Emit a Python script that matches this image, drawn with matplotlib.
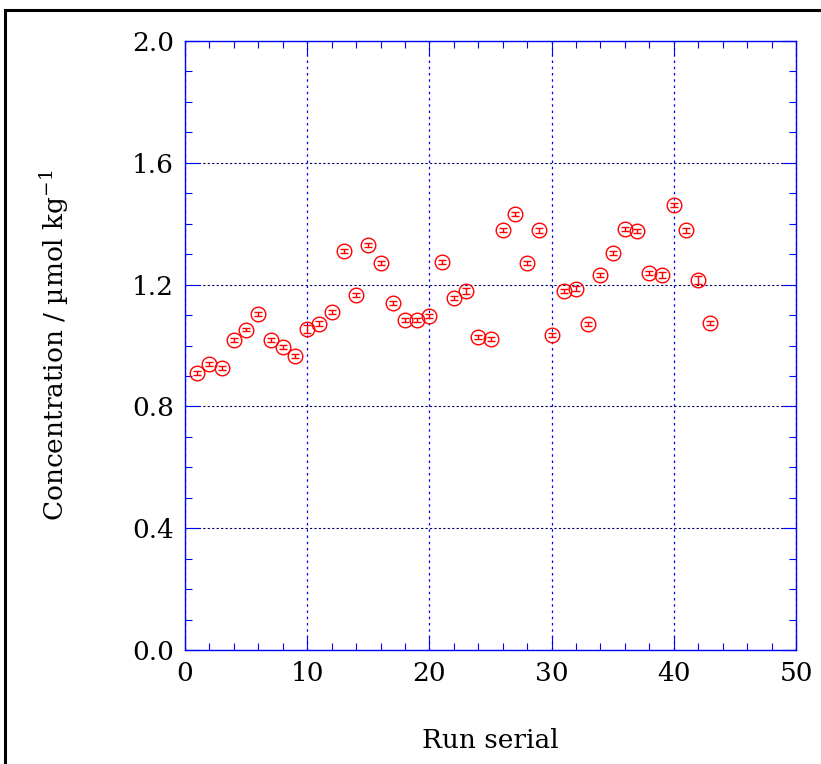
import matplotlib
matplotlib.use("Agg")
import matplotlib.pyplot as plt
from matplotlib.patches import Rectangle
from matplotlib.ticker import MultipleLocator

# data
runs = list(range(1, 44))
conc = [0.910, 0.939, 0.926, 1.018, 1.051, 1.103, 1.018, 0.995, 0.966, 1.054,
        1.071, 1.110, 1.310, 1.166, 1.330, 1.271, 1.140, 1.084, 1.084, 1.097,
        1.274, 1.156, 1.179, 1.028, 1.021, 1.379, 1.432, 1.271, 1.379, 1.034,
        1.179, 1.186, 1.071, 1.232, 1.304, 1.383, 1.376, 1.238, 1.232, 1.461,
        1.379, 1.215, 1.074]
err = [0.006, 0.006, 0.007, 0.005, 0.005, 0.006, 0.006, 0.006, 0.006, 0.012,
       0.008, 0.008, 0.006, 0.007, 0.006, 0.006, 0.006, 0.006, 0.006, 0.008,
       0.006, 0.006, 0.009, 0.006, 0.006, 0.006, 0.006, 0.006, 0.008, 0.006,
       0.008, 0.008, 0.006, 0.006, 0.006, 0.006, 0.007, 0.006, 0.009, 0.007,
       0.008, 0.012, 0.006]

plt.rcParams['font.family'] = ['DejaVu Serif']
plt.rcParams['mathtext.fontset'] = 'dejavuserif'

fig = plt.figure(figsize=(8.21, 7.64), dpi=100)
ax = fig.add_axes([185/821, 1 - 650/764, 611/821, 609/764])

# outer frame (only top/left visible in the reference)
fig.patches.append(Rectangle((5/821, -0.05), 1.2, 1 - 10/764 + 0.05,
                             transform=fig.transFigure, fill=False,
                             edgecolor='black', linewidth=2.2))

ax.errorbar(runs, conc, yerr=err, fmt='o', mfc='none', mec='red', color='red',
            ms=10.5, mew=1.0, elinewidth=1.0, capsize=3, capthick=1.0, zorder=3)

ax.set_xlim(0, 50)
ax.set_ylim(0, 2.0)
ax.xaxis.set_major_locator(MultipleLocator(10))
ax.xaxis.set_minor_locator(MultipleLocator(2))
ax.yaxis.set_major_locator(MultipleLocator(0.4))
ax.yaxis.set_minor_locator(MultipleLocator(0.1))
ax.yaxis.set_major_formatter(plt.FormatStrFormatter('%.1f'))

ax.grid(True, axis='x', which='major', color='blue', linestyle=(0, (2, 3)), linewidth=0.9)
ax.grid(True, axis='y', which='major', color='#000066', linestyle=(0, (2, 2)), linewidth=0.8)

for s in ax.spines.values():
    s.set_color('blue')
    s.set_linewidth(1.0)

ax.tick_params(which='both', direction='in', top=True, right=True, color='blue',
               labelsize=19, pad=8)
ax.tick_params(which='major', length=10, width=0.8)
ax.tick_params(which='minor', length=5, width=0.8)

ax.set_xlabel('Run serial', fontsize=19, labelpad=30)
ax.set_ylabel('Concentration / µmol kg$^{-1}$', fontsize=19, labelpad=44)

fig.savefig('out.png', dpi=100)
